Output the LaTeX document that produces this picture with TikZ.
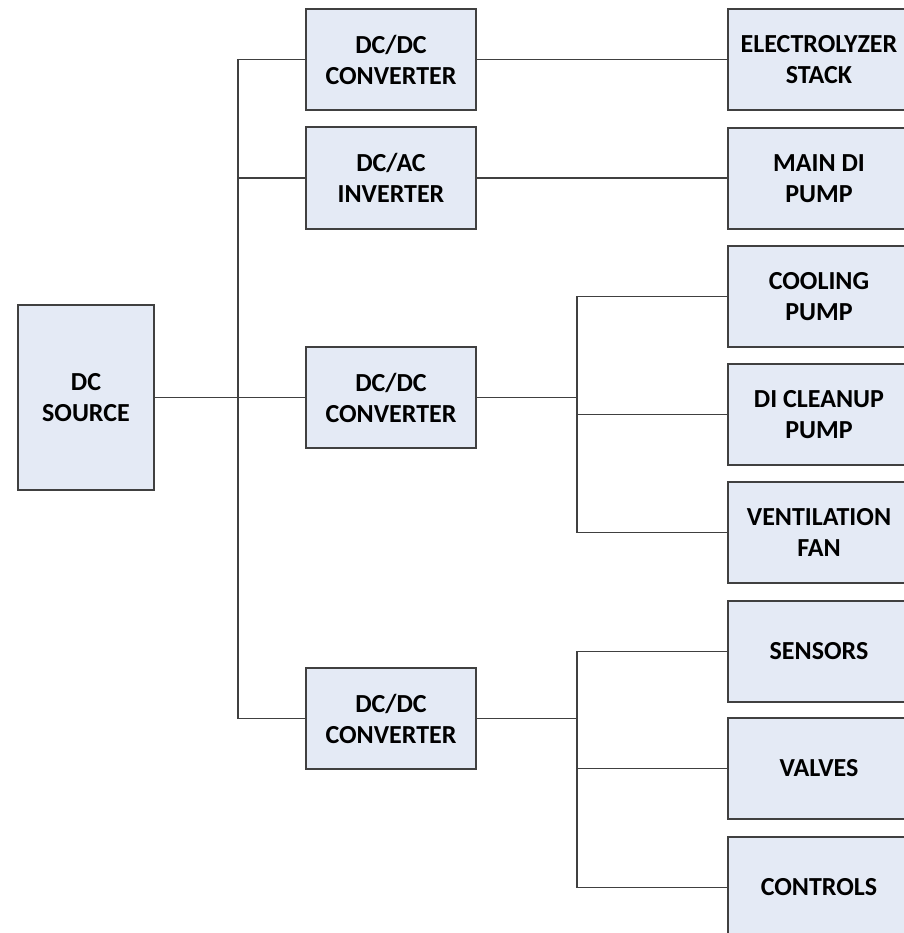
\documentclass[tikz,border=0pt]{standalone}
\usepackage{fontspec}
\setmainfont{Carlito}
\definecolor{boxfill}{HTML}{E4EAF5}
\definecolor{boxline}{HTML}{404040}
\begin{document}
\begin{tikzpicture}[x=0.5pt,y=-0.5pt,
  blk/.style={draw=boxline,fill=boxfill,line width=0.75pt,align=center,
    font=\fontsize{13}{15.5}\selectfont\bfseries,inner sep=0pt,
    minimum width=#1*0.5pt},
  blk/.default=170,
  wire/.style={draw=boxline,line width=0.7pt}]
\useasboundingbox (0,0) rectangle (904,933);
\clip (0,0) rectangle (904,933);
\fill[white] (0,0) rectangle (904,933);
\node[blk=136, minimum height=92.5pt] (src) at (86,397.5) {DC\\SOURCE};
\node[blk, minimum height=50.5pt] (c1) at (391,59.5) {DC/DC\\CONVERTER};
\node[blk, minimum height=51pt] (inv) at (391,178) {DC/AC\\INVERTER};
\node[blk, minimum height=50.5pt] (c2) at (391,397.5) {DC/DC\\CONVERTER};
\node[blk, minimum height=50.5pt] (c3) at (391,718.5) {DC/DC\\CONVERTER};
\node[blk=182, minimum height=50.5pt] (el) at (819,59.5) {ELECTROLYZER\\STACK};
\node[blk=182, minimum height=50.5pt] (mdi) at (819,178.5) {MAIN DI\\PUMP};
\node[blk=182, minimum height=50.5pt] (cool) at (819,296.5) {COOLING\\PUMP};
\node[blk=182, minimum height=50.5pt] (dic) at (819,414.5) {DI CLEANUP\\PUMP};
\node[blk=182, minimum height=50.5pt] (vent) at (819,532.5) {VENTILATION\\FAN};
\node[blk=182, minimum height=50.5pt] (sens) at (819,651.5) {SENSORS};
\node[blk=182, minimum height=50.5pt] (valv) at (819,768.5) {VALVES};
\node[blk=182, minimum height=50.5pt] (ctrl) at (819,887.5) {CONTROLS};
\coordinate (bus) at (238,0);
\coordinate (sb) at (577,0);
% main bus
\draw[wire] (src.east) -- (src.east -| bus);
\draw[wire] (c1.west) -| (c3.west -| bus) -- (c3.west);
\draw[wire] (inv.west) -- (inv.west -| bus);
\draw[wire] (c2.west) -- (c2.west -| bus);
% direct
\draw[wire] (c1.east) -- (c1.east -| el.west);
\draw[wire] (inv.east) -- (inv.east -| mdi.west);
% sub-bus 1
\draw[wire] (c2.east) -- (c2.east -| sb);
\draw[wire] (cool.west) -| (vent.west -| sb) -- (vent.west);
\draw[wire] (dic.west) -- (dic.west -| sb);
% sub-bus 2
\draw[wire] (c3.east) -- (c3.east -| sb);
\draw[wire] (sens.west) -| (ctrl.west -| sb) -- (ctrl.west);
\draw[wire] (valv.west) -- (valv.west -| sb);
\end{tikzpicture}
\end{document}
